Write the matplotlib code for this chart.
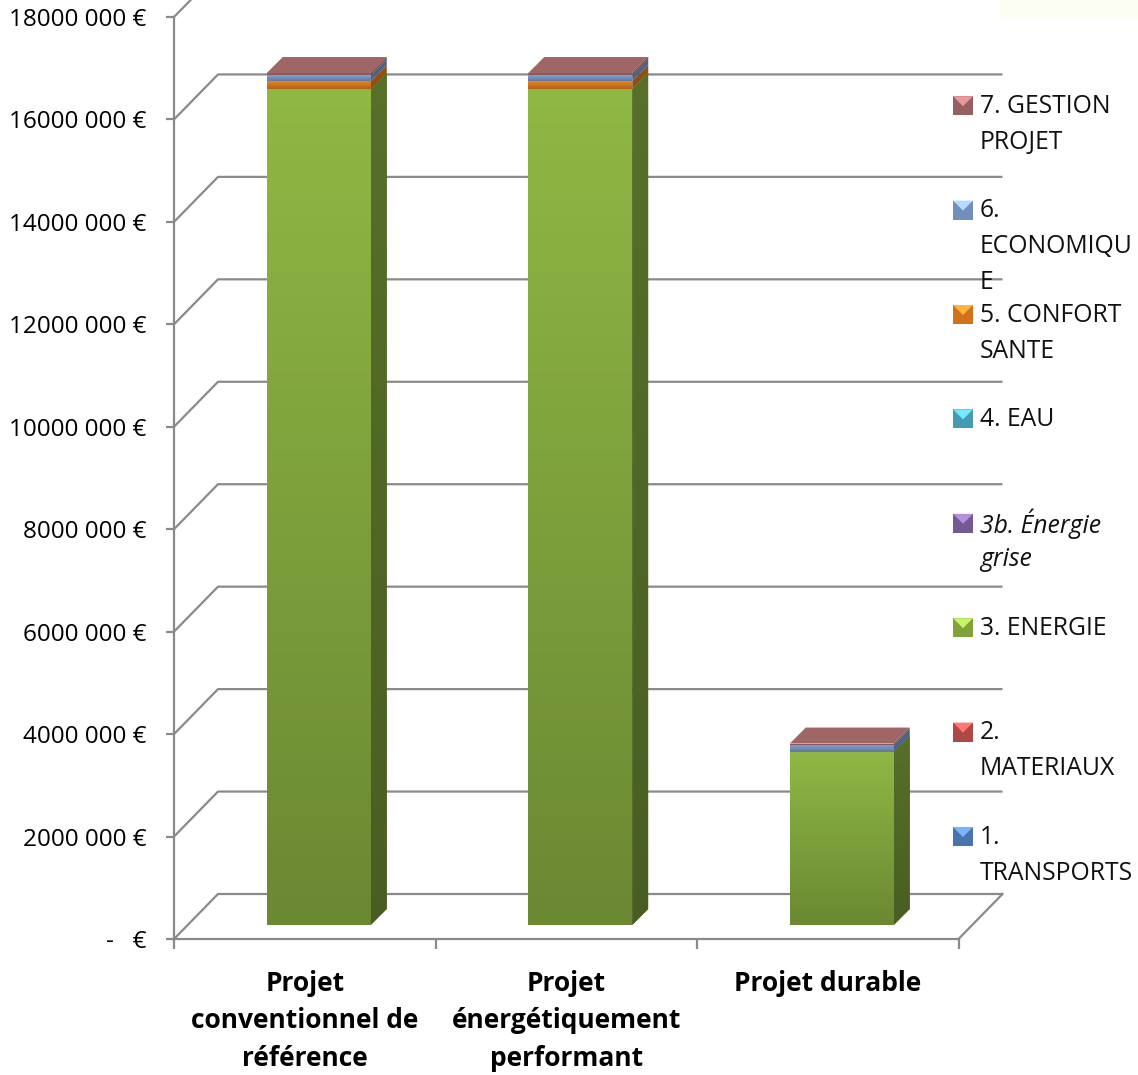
import numpy as np
import matplotlib.pyplot as plt
from matplotlib.patches import Polygon, Rectangle
from matplotlib.colors import to_rgb, LinearSegmentedColormap

plt.rcParams['font.family'] = ['Open Sans', 'DejaVu Sans']

# data (euros)
projets = ["Projet\nconventionnel de\nréférence", "Projet\nénergétiquement\nperformant", "Projet durable"]
series = ["1.\nTRANSPORTS", "2.\nMATERIAUX", "3. ENERGIE", "3b. Énergie\ngrise", "4. EAU",
          "5. CONFORT\nSANTE", "6.\nECONOMIQU\nE", "7. GESTION\nPROJET"]
transports = [0, 0, 0]
materiaux = [0, 0, 0]
energie = [16320000, 16320000, 3380000]
energie_grise = [0, 0, 0]
eau = [0, 0, 0]
confort = [156000, 156000, 0]
economique = [117000, 117000, 137000]
gestion = [40000, 40000, 25000]
yticks = [0, 2000000, 4000000, 6000000, 8000000, 10000000, 12000000, 14000000, 16000000, 18000000]
ylabels = ["-   €", "2000 000 €", "4000 000 €", "6000 000 €", "8000 000 €", "10000 000 €",
           "12000 000 €", "14000 000 €", "16000 000 €", "18000 000 €"]

valeurs = [transports, materiaux, energie, energie_grise, eau, confort, economique, gestion]
couleurs = ['#4F81BD', '#C0504D', '#8DB443', '#8064A2', '#4BACC6', '#E8801F', '#7F9ED0', '#A86B6B']

W, H = 1138, 1075
fig = plt.figure(figsize=(W / 100, H / 100), dpi=100)
x0, x1, y0, y1 = 174, 958.5, 939, 17
ax = fig.add_axes([x0 / W, 1 - y0 / H, (x1 - x0) / W, (y0 - y1) / H])
ax.patch.set_visible(False)
ppx = 3 / (x1 - x0)
ppy = 18e6 / (y0 - y1)
grey = '#8A8A8A'


def darker(c, f):
    r, g, b = to_rgb(c)
    return (r * f, g * f, b * f)


def shade(patch, top, bottom, ext, z):
    cmap = LinearSegmentedColormap.from_list('g', [bottom, top])
    grad = np.linspace(1, 0, 64).reshape(-1, 1)
    im = ax.imshow(grad, extent=ext, aspect='auto', cmap=cmap, zorder=z, vmin=0, vmax=1,
                   interpolation='bilinear')
    im.set_clip_path(patch)


# back wall + side wall gridlines
bx, by = 44 * ppx, 45 * ppy
for v in yticks:
    ax.plot([0, bx, 3 + bx], [v, v + by, v + by], color=grey, lw=1.6, clip_on=False, zorder=1,
            solid_capstyle='butt')
ax.plot([3, 3 + bx], [0, by], color=grey, lw=1.6, clip_on=False, zorder=1)

# bars
dx, dy = 16 * ppx, 16 * ppy
base = 14 * ppy
w = 104 * ppx
for k in range(3):
    xl = k + 0.5 - 52 * ppx + 14 * ppx
    xr = xl + w
    cum = base
    top_c = None
    for vals, c in zip(valeurs, couleurs):
        h = vals[k]
        if h <= 0:
            continue
        rect = ax.bar(xl, h, width=w, bottom=cum, align='edge', color=c, lw=0, zorder=3)[0]
        shade(rect, darker(c, 1.02), darker(c, 0.76), [xl, xr, cum, cum + h], 3.1)
        side = Polygon([(xr, cum), (xr + dx, cum + dy), (xr + dx, cum + h + dy), (xr, cum + h)],
                       closed=True, color=darker(c, 0.62), lw=0, zorder=3)
        ax.add_patch(side)
        if h > 1e6:
            shade(side, darker(c, 0.62), darker(c, 0.52), [xr, xr + dx, cum, cum + h + dy], 3.1)
        cum += h
        top_c = c
    ax.add_patch(Polygon([(xl, cum), (xl + dx, cum + dy), (xr + dx, cum + dy), (xr, cum)],
                         closed=True, color=darker(top_c, 0.95), lw=0, zorder=3.2))

# axes
for s in ['top', 'right']:
    ax.spines[s].set_visible(False)
for s in ['left', 'bottom']:
    ax.spines[s].set_color(grey)
    ax.spines[s].set_linewidth(1.6)
ax.set_yticks(yticks, ylabels)
ax.tick_params(axis='y', direction='out', length=6, width=1.6, color=grey, pad=14, labelsize=17.5)
ax.set_xticks([0, 1, 2, 3], ['', '', '', ''])
ax.set_xticks([0.5, 1.5, 2.5], projets, minor=True)
ax.tick_params(axis='x', which='major', direction='out', length=7, width=1.6, color=grey)
ax.tick_params(axis='x', which='minor', length=0, pad=22, labelsize=19)
for t in ax.get_xticklabels(minor=True):
    t.set_fontweight('bold')
    t.set_linespacing(1.5)
ax.set_xlim(0, 3)
ax.set_ylim(0, 18e6)

# legend (pixel overlay)
ov = fig.add_axes([0, 0, 1, 1])
ov.set_xlim(0, W)
ov.set_ylim(H, 0)
ov.axis('off')
ov.patch.set_visible(False)
ov.add_patch(Rectangle((1000, 0), 138, 20, color='#FCFDF3', lw=0))
for i, (lab, c) in enumerate(zip(series, couleurs)):
    yc = 837 - i * 104.4
    ov.add_patch(Rectangle((953, yc - 10), 20, 19, color=darker(c, 0.9), lw=0))
    ov.add_patch(Polygon([(953, yc - 10), (973, yc - 10), (963, yc)], closed=True,
                         color=tuple(min(1, v * 1.25 + 0.08) for v in to_rgb(c)), lw=0))
    st = 'italic' if lab.startswith('3b') else 'normal'
    for j, ligne in enumerate(lab.split('\n')):
        ov.text(980, yc + j * 36, ligne, fontsize=17.8, va='center', ha='left', fontstyle=st,
                color='#111111')

fig.savefig('out.png', dpi=100)
